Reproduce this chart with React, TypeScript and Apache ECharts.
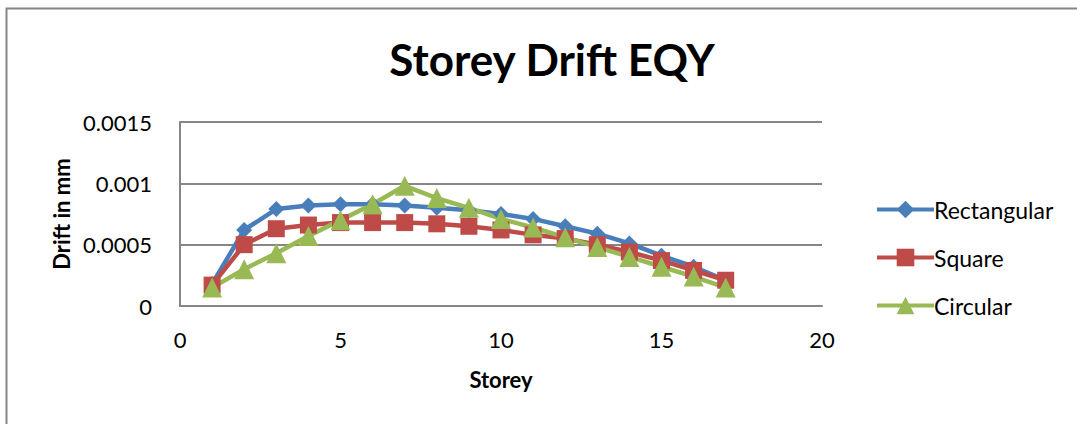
import React, { useEffect, useRef } from "react";
import * as echarts from "echarts";

const storeys = [1, 2, 3, 4, 5, 6, 7, 8, 9, 10, 11, 12, 13, 14, 15, 16, 17];
const rectangular = [0.00018, 0.00062, 0.00079, 0.00082, 0.00083, 0.00083, 0.00082, 0.0008, 0.00078, 0.00075, 0.00071, 0.00065, 0.00059, 0.00051, 0.00041, 0.00032, 0.00021];
const square = [0.00017, 0.0005, 0.00063, 0.00066, 0.00068, 0.00068, 0.00068, 0.00067, 0.00065, 0.00062, 0.00058, 0.00055, 0.0005, 0.00044, 0.00037, 0.00029, 0.00021];
const circular = [0.00015, 0.0003, 0.00043, 0.00057, 0.0007, 0.00083, 0.00098, 0.00088, 0.0008, 0.00071, 0.00064, 0.00056, 0.00048, 0.0004, 0.00032, 0.00024, 0.00015];
const yTickLabels: Record<string, string> = { "0": "0", "0.0005": "0.0005", "0.001": "0.001", "0.0015": "0.0015" };

const FONT = "Lato, 'Open Sans', sans-serif";

export default function App() {
  const ref = useRef<HTMLDivElement>(null);
  useEffect(() => {
    const chart = echarts.init(ref.current!, null, { renderer: "svg" });
    const mk = (arr: number[]) => storeys.map((s, i) => [s, arr[i]]);
    chart.setOption({
      animation: false,
      backgroundColor: "#fff",
      textStyle: { fontFamily: FONT },
      title: {
        text: "Storey Drift EQY",
        left: 547,
        textAlign: "center",
        top: 32,
        textStyle: { fontSize: 44, fontWeight: "bold", color: "#000", fontFamily: FONT },
      },
      graphic: [
        {
          type: "rect",
          shape: { x: 6.5, y: 8.5, width: 1080, height: 430 },
          style: { fill: "none", stroke: "#868686", lineWidth: 2 },
          silent: true,
        },
      ],
      grid: { left: 180, right: 255, top: 122, height: 184, containLabel: false },
      legend: {
        orient: "vertical",
        left: 870,
        top: 193,
        itemWidth: 57,
        itemHeight: 22,
        itemGap: 25,
        lineStyle: { width: 4 },
        textStyle: { fontSize: 23, color: "#000", fontFamily: FONT, padding: [0, 0, 0, -5] },
        data: ["Rectangular", "Square", "Circular"],
      },
      xAxis: {
        type: "value",
        min: 0,
        max: 20,
        interval: 5,
        name: "Storey",
        nameLocation: "middle",
        nameGap: 62,
        nameTextStyle: { fontSize: 22, fontWeight: "bold", color: "#000", fontFamily: FONT },
        axisLine: { show: true, lineStyle: { color: "#868686", width: 2 } },
        axisTick: { show: false },
        splitLine: { show: false },
        axisLabel: { fontSize: 22, color: "#000", margin: 22, fontFamily: FONT },
      },
      yAxis: {
        type: "value",
        min: 0,
        max: 0.0015,
        interval: 0.0005,
        name: "Drift in mm",
        nameLocation: "middle",
        nameGap: 108,
        nameTextStyle: { fontSize: 22, fontWeight: "bold", color: "#000", fontFamily: FONT },
        axisLine: { show: true, lineStyle: { color: "#868686", width: 2 } },
        axisTick: { show: false },
        splitLine: { show: true, lineStyle: { color: "#868686", width: 2 } },
        axisLabel: {
          fontSize: 22,
          color: "#000",
          margin: 28,
          fontFamily: FONT,
          formatter: (v: number) => yTickLabels[String(+v.toFixed(4))] ?? String(v),
        },
      },
      series: [
        {
          name: "Rectangular",
          type: "line",
          data: mk(rectangular),
          symbol: "diamond",
          symbolSize: 16,
          lineStyle: { color: "#4A7EBB", width: 4.5 },
          itemStyle: { color: "#4A7EBB" },
        },
        {
          name: "Square",
          type: "line",
          data: mk(square),
          symbol: "rect",
          symbolSize: 17,
          lineStyle: { color: "#BE4B48", width: 4.5 },
          itemStyle: { color: "#BE4B48" },
        },
        {
          name: "Circular",
          type: "line",
          data: mk(circular),
          symbol: "triangle",
          symbolSize: 20,
          lineStyle: { color: "#98B954", width: 4.5 },
          itemStyle: { color: "#98B954" },
        },
      ],
    });
    return () => chart.dispose();
  }, []);
  return <div ref={ref} style={{ position: "fixed", left: 0, top: 0, width: 1077, height: 424 }} />;
}
